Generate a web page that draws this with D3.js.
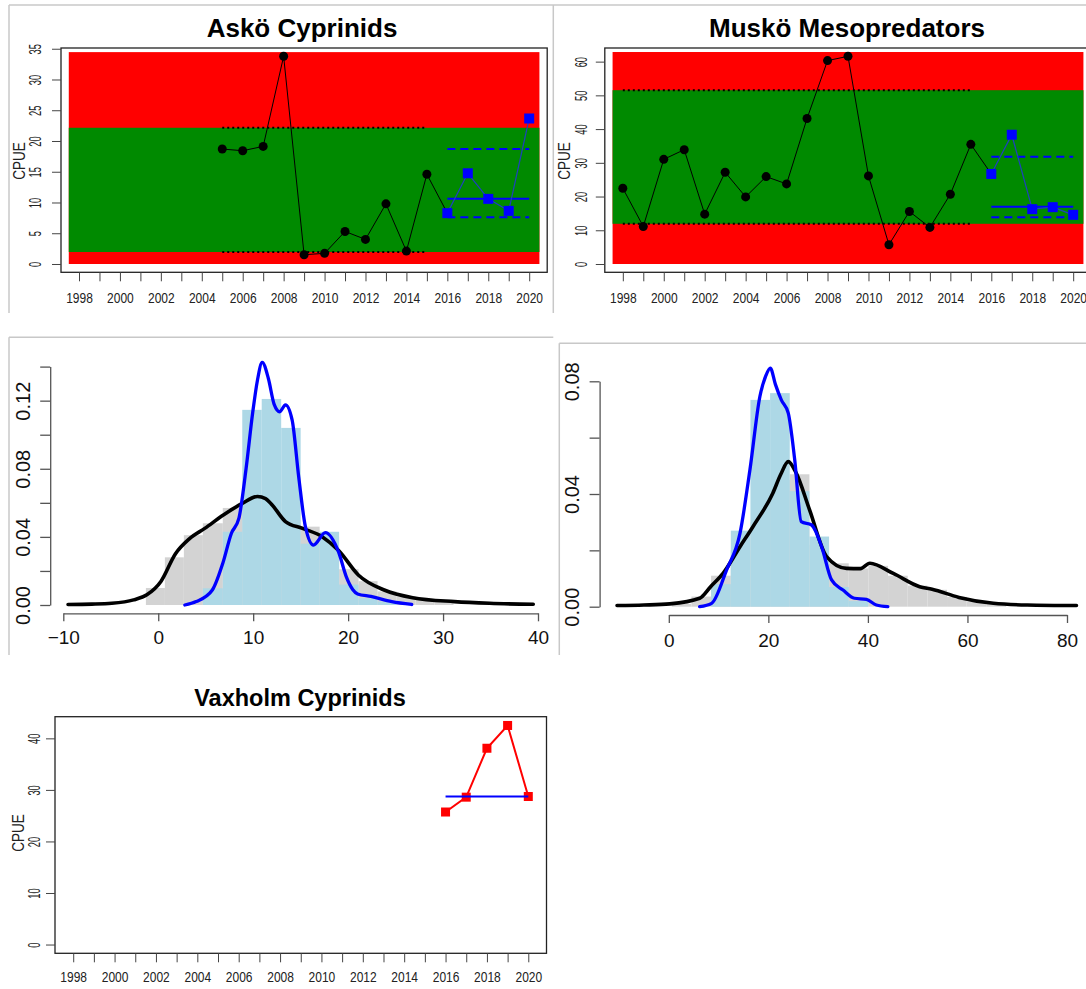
<!DOCTYPE html>
<html>
<head>
<meta charset="utf-8">
<script src="https://cdn.jsdelivr.net/npm/d3@7"></script>
<style>
  body { margin: 0; background: #fff; }
  svg { display: block; }
</style>
</head>
<body>
<svg id="chart" width="1086" height="989"></svg>
<script>
const FONT = "'Liberation Sans', Arial, sans-serif";

// ---- trend panels: CPUE per year ----
const yearTicks = [1998, 1999, 2000, 2001, 2002, 2003, 2004, 2005, 2006, 2007, 2008, 2009, 2010, 2011, 2012, 2013, 2014, 2015, 2016, 2017, 2018, 2019, 2020];
const yearLabels = [1998, 2000, 2002, 2004, 2006, 2008, 2010, 2012, 2014, 2016, 2018, 2020];

const askoYears = [2005, 2006, 2007, 2008, 2009, 2010, 2011, 2012, 2013, 2014, 2015, 2016, 2017, 2018, 2019, 2020];
const askoCpue = [18.69, 18.42, 19.12, 33.77, 1.51, 1.73, 5.29, 4.0, 9.78, 2.1, 14.59, 8.27, 14.75, 10.59, 8.64, 23.66];
const askoBand = [1.95, 22.15];          // green band = dotted reference lines
const askoRecent = [7.62, 10.59, 18.69]; // lower dashed, median, upper dashed
const askoYTicks = [0, 5, 10, 15, 20, 25, 30, 35];

const muskoYears = [1998, 1999, 2000, 2001, 2002, 2003, 2004, 2005, 2006, 2007, 2008, 2009, 2010, 2011, 2012, 2013, 2014, 2015, 2016, 2017, 2018, 2019, 2020];
const muskoCpue = [22.46, 11.13, 31.03, 33.89, 14.78, 27.19, 19.9, 25.91, 23.74, 43.15, 60.3, 61.58, 26.11, 5.71, 15.57, 10.84, 20.69, 35.47, 26.7, 38.33, 16.26, 16.85, 14.58];
const muskoBand = [11.92, 51.53];
const muskoRecent = [13.89, 16.95, 31.82];
const muskoYTicks = [0, 10, 20, 30, 40, 50, 60];

const vaxholmYears = [2016, 2017, 2018, 2019, 2020];
const vaxholmCpue = [25.71, 28.59, 38.08, 42.5, 28.72];
const vaxholmMedian = 28.72;
const vaxholmYTicks = [0, 10, 20, 30, 40];

// ---- density panels ----
const askoEdges = [-1.3, 0.7, 2.7, 4.7, 6.8, 8.85, 10.9, 12.95, 15.0, 17.0, 19.05, 21.1, 23.1, 25.1, 27.1, 29.1, 31.1];
const askoAllHist = [0.010, 0.028, 0.041, 0.048, 0.057, 0.062, 0.060, 0.050, 0.046, 0.040, 0.021, 0.014, 0.008, 0.005, 0.003, 0.002];
const askoRecentHist = [0, 0, 0, 0.0098, 0.043, 0.1146, 0.121, 0.104, 0.036, 0.043, 0.012, 0.004, 0.002, 0, 0, 0];
const askoAllCurveX = [-9.5, -7.0, -4.9, -2.6, -1.2, 0.3, 1.8, 3.3, 4.9, 6.9, 8.8, 10.45, 11.3, 12.0, 13.4, 15.2, 17.3, 19.0, 21.1, 23.8, 26.8, 31.2, 34.9, 39.5];
const askoAllCurveY = [0.0003, 0.0005, 0.001, 0.003, 0.006, 0.014, 0.030, 0.039, 0.045, 0.053, 0.0595, 0.0637, 0.0625, 0.0587, 0.049, 0.045, 0.040, 0.032, 0.0175, 0.0088, 0.0043, 0.002, 0.001, 0.0004];
const askoRecentCurveX = [2.8, 4.0, 5.7, 6.8, 7.7, 8.5, 9.25, 9.95, 10.45, 10.95, 11.6, 12.2, 12.8, 13.4, 14.1, 14.8, 15.5, 16.35, 17.6, 19.0, 19.8, 20.5, 21.0, 22.4, 24.6, 26.7];
const askoRecentCurveY = [0, 0.002, 0.0088, 0.0245, 0.042, 0.051, 0.08, 0.113, 0.132, 0.1425, 0.133, 0.118, 0.1135, 0.1175, 0.1087, 0.075, 0.046, 0.0352, 0.0425, 0.031, 0.0167, 0.009, 0.0065, 0.005, 0.002, 0.0003];

const muskoEdges = [0.6, 4.55, 8.5, 12.45, 16.4, 20.35, 24.3, 28.25, 32.2, 36.15, 40.1, 44.05, 48.0, 51.95, 55.9, 59.85, 63.8, 67.75];
const muskoAllHist = [0.001, 0.0036, 0.011, 0.020, 0.030, 0.045, 0.047, 0.022, 0.0154, 0.0136, 0.0145, 0.011, 0.0075, 0.006, 0.0035, 0.0018, 0.001];
const muskoRecentHist = [0, 0, 0.008, 0.027, 0.0734, 0.0758, 0.041, 0.0249, 0.007, 0.002, 0, 0, 0, 0, 0, 0, 0];
const muskoAllCurveX = [-10.4, -5.0, 0.2, 6.2, 8.4, 10.9, 14.3, 16.9, 20.9, 22.5, 24.0, 25.6, 28.3, 31.7, 35.7, 38.5, 40.4, 45.1, 50.4, 52.9, 58.3, 65.2, 72.0, 81.9];
const muskoAllCurveY = [0.0004, 0.0006, 0.001, 0.003, 0.0071, 0.0118, 0.0213, 0.0284, 0.0403, 0.047, 0.0515, 0.0474, 0.0343, 0.0178, 0.0136, 0.0135, 0.0154, 0.0118, 0.0071, 0.0062, 0.0033, 0.0012, 0.0006, 0.0004];
const muskoRecentCurveX = [6.2, 8.6, 11.6, 14.3, 16.3, 18.3, 19.5, 20.4, 21.4, 22.6, 24.0, 25.3, 26.6, 28.7, 30.7, 32.7, 35.0, 37.3, 39.7, 41.7, 44.0];
const muskoRecentCurveY = [0, 0.0012, 0.013, 0.026, 0.0486, 0.0746, 0.082, 0.0847, 0.079, 0.0734, 0.0687, 0.0521, 0.0302, 0.029, 0.0213, 0.0095, 0.0059, 0.003, 0.0026, 0.0006, 0];

const svg = d3.select("#chart").attr("font-family", FONT);
svg.append("rect").attr("width", 1086).attr("height", 989).attr("fill", "#fff");

// light grey frames round the pasted panels
const frames = [
  [9, 5, 1086, 5], [9, 5, 9, 313], [553.3, 5, 553.3, 313],
  [9, 337.3, 553.3, 337.3], [9, 337.3, 9, 655],
  [559.3, 343.3, 1086, 343.3], [559.3, 343.3, 559.3, 655]
];
svg.selectAll(".frame").data(frames).join("line")
  .attr("class", "frame")
  .attr("x1", d => d[0]).attr("y1", d => d[1])
  .attr("x2", d => d[2]).attr("y2", d => d[3])
  .attr("stroke", "#c8c8c8").attr("stroke-width", 1.5);

function drawTrend(p) {
  const g = svg.append("g");
  const x = d3.scaleLinear().domain([1997.12, 2020.88]).range([p.left, p.right]);
  const y = d3.scaleLinear().domain(p.yDomain).range([p.bottom, p.top]);

  if (p.band) {
    g.append("rect")
      .attr("x", x(1997.5)).attr("y", y(p.redTop))
      .attr("width", x(2020.5) - x(1997.5)).attr("height", y(0) - y(p.redTop))
      .attr("fill", "#ff0000");
    g.append("rect")
      .attr("x", x(1997.5)).attr("y", y(p.band[1]))
      .attr("width", x(2020.5) - x(1997.5)).attr("height", y(p.band[0]) - y(p.band[1]))
      .attr("fill", "#008a00");
    // dotted reference lines over the baseline period
    g.selectAll(".ref").data(p.band).join("line")
      .attr("x1", x(p.years[0])).attr("x2", x(2015))
      .attr("y1", d => y(d)).attr("y2", d => y(d))
      .attr("stroke", "#000").attr("stroke-width", 2)
      .attr("stroke-dasharray", "2,3");
  }

  // box
  g.append("rect")
    .attr("x", p.left).attr("y", p.top)
    .attr("width", p.right - p.left).attr("height", p.bottom - p.top)
    .attr("fill", "none").attr("stroke", "#222").attr("stroke-width", 1.3);

  // y axis
  const ya = g.append("g").attr("transform", `translate(${p.left},0)`)
    .call(d3.axisLeft(y).tickValues(p.yTicks).tickSize(9).tickSizeOuter(0).tickFormat(d3.format("d")));
  ya.attr("font-family", FONT).attr("font-size", 12);
  ya.select(".domain").remove();
  ya.selectAll(".tick line").attr("stroke", "#444");
  ya.selectAll(".tick text")
    .attr("x", null).attr("dy", null).attr("fill", "#222")
    .attr("text-anchor", "middle").attr("dominant-baseline", "central")
    .attr("transform", `translate(${p.yLabelX - p.left},0) rotate(-90) scale(0.78,1.35)`);

  // x axis
  const xa = g.append("g").attr("transform", `translate(0,${p.bottom})`)
    .call(d3.axisBottom(x).tickValues(yearTicks).tickSize(9).tickSizeOuter(0)
      .tickFormat(d => yearLabels.includes(d) ? d : ""));
  xa.attr("font-family", FONT).attr("font-size", 12);
  xa.select(".domain").remove();
  xa.selectAll(".tick line").attr("stroke", "#444");
  xa.selectAll(".tick text")
    .attr("y", null).attr("dy", null).attr("fill", "#222")
    .attr("dominant-baseline", "central")
    .attr("transform", `translate(0,${p.xLabelY - p.bottom}) scale(1,1.15)`);

  // title and y label
  g.append("text")
    .attr("x", p.titleX).attr("y", p.titleY)
    .attr("text-anchor", "middle").attr("font-weight", "bold")
    .attr("font-size", p.titleSize).attr("fill", "#000")
    .text(p.title);
  g.append("text")
    .attr("text-anchor", "middle").attr("dominant-baseline", "central")
    .attr("font-size", 13.5).attr("fill", "#222")
    .attr("transform", `translate(${p.cpueX},${p.cpueY}) rotate(-90) scale(1,1.25)`)
    .text("CPUE");

  const pts = p.years.map((yr, i) => ({ year: yr, v: p.cpue[i] }));
  const line = d3.line().x(d => x(d.year)).y(d => y(d.v));

  if (p.band) {
    const base = pts.filter(d => d.year <= 2016);
    const recent = pts.filter(d => d.year >= 2016);
    g.append("path").datum(base).attr("d", line)
      .attr("fill", "none").attr("stroke", "#000").attr("stroke-width", 1);
    g.selectAll(".pt").data(pts.filter(d => d.year < 2016)).join("circle")
      .attr("cx", d => x(d.year)).attr("cy", d => y(d.v)).attr("r", 4.5)
      .attr("fill", "#000");
    // recent-period median and dashed limits
    g.selectAll(".lim").data([p.recent[0], p.recent[2]]).join("line")
      .attr("x1", x(2016)).attr("x2", x(2020))
      .attr("y1", d => y(d)).attr("y2", d => y(d))
      .attr("stroke", "#0000ff").attr("stroke-width", 2)
      .attr("stroke-dasharray", "8,5");
    g.append("line")
      .attr("x1", x(2016)).attr("x2", x(2020))
      .attr("y1", y(p.recent[1])).attr("y2", y(p.recent[1]))
      .attr("stroke", "#0000ff").attr("stroke-width", 2);
    g.append("path").datum(recent).attr("d", line)
      .attr("fill", "none").attr("stroke", "#1f3fc0").attr("stroke-width", 1.2);
    g.selectAll(".sq").data(recent).join("rect")
      .attr("x", d => x(d.year) - 5).attr("y", d => y(d.v) - 5)
      .attr("width", 10).attr("height", 10).attr("fill", "#0000ff");
  } else {
    g.append("path").datum(pts).attr("d", line)
      .attr("fill", "none").attr("stroke", "#ff0000").attr("stroke-width", 2);
    g.selectAll(".sq").data(pts).join("rect")
      .attr("x", d => x(d.year) - 4.5).attr("y", d => y(d.v) - 4.5)
      .attr("width", 9).attr("height", 9).attr("fill", "#ff0000");
    g.append("line")
      .attr("x1", x(2016)).attr("x2", x(2020))
      .attr("y1", y(p.median)).attr("y2", y(p.median))
      .attr("stroke", "#0000ff").attr("stroke-width", 2);
  }
}

function drawHist(p) {
  const g = svg.append("g");
  const x = d3.scaleLinear().domain(p.xDomain).range(p.xRange);
  const y = d3.scaleLinear().domain([0, p.yMax]).range([p.yBase, p.yTop]);
  const bins = p.edges.slice(0, -1).map((e, i) => ({
    x0: e, x1: p.edges[i + 1], all: p.allHist[i], recent: p.recentHist[i]
  }));

  g.selectAll(".all").data(bins).join("rect")
    .attr("x", d => x(d.x0)).attr("width", d => x(d.x1) - x(d.x0))
    .attr("y", d => y(d.all)).attr("height", d => y(0) - y(d.all))
    .attr("fill", "#d3d3d3");
  g.selectAll(".recent").data(bins).join("rect")
    .attr("x", d => x(d.x0)).attr("width", d => x(d.x1) - x(d.x0))
    .attr("y", d => y(d.recent)).attr("height", d => y(0) - y(d.recent))
    .attr("fill", "#add8e6");

  const curve = d3.line().x(d => x(d[0])).y(d => y(d[1])).curve(d3.curveMonotoneX);
  g.append("path").datum(d3.zip(p.allX, p.allY)).attr("d", curve)
    .attr("fill", "none").attr("stroke", "#000").attr("stroke-width", 3.6)
    .attr("stroke-linejoin", "round").attr("stroke-linecap", "round");
  g.append("path").datum(d3.zip(p.recentX, p.recentY)).attr("d", curve)
    .attr("fill", "none").attr("stroke", "#0000ff").attr("stroke-width", 3.3)
    .attr("stroke-linejoin", "round").attr("stroke-linecap", "round");

  const ya = g.append("g").attr("transform", `translate(${p.yAxisX},0)`)
    .call(d3.axisLeft(y).tickValues(p.yTicks).tickSize(10).tickSizeOuter(0)
      .tickFormat(d => p.yLabels.includes(d) ? d3.format(".2f")(d) : ""));
  ya.attr("font-family", FONT).attr("font-size", 20);
  ya.select(".domain").attr("stroke", "#555").attr("stroke-width", 1.3);
  ya.selectAll(".tick line").attr("stroke", "#555").attr("stroke-width", 1.3);
  ya.selectAll(".tick text")
    .attr("x", null).attr("dy", null).attr("fill", "#111")
    .attr("text-anchor", "middle").attr("dominant-baseline", "central")
    .attr("transform", `translate(${p.yLabelX - p.yAxisX},0) rotate(-90)`);

  const xa = g.append("g").attr("transform", `translate(0,${p.xAxisY})`)
    .call(d3.axisBottom(x).tickValues(p.xTicks).tickSize(8).tickSizeOuter(0));
  xa.attr("font-family", FONT).attr("font-size", 19);
  xa.select(".domain").attr("stroke", "#555").attr("stroke-width", 1.3);
  xa.selectAll(".tick line").attr("stroke", "#555").attr("stroke-width", 1.3);
  xa.selectAll(".tick text")
    .attr("y", p.xLabelY - p.xAxisY).attr("dy", null).attr("fill", "#111")
    .attr("dominant-baseline", "central");
}

drawTrend({
  title: "Askö Cyprinids", titleX: 302, titleY: 37, titleSize: 26,
  left: 61, right: 547.2, top: 48, bottom: 272.3,
  yDomain: [-1.35, 35.12], yTicks: askoYTicks, yLabelX: 35, xLabelY: 298,
  cpueX: 19, cpueY: 161,
  years: askoYears, cpue: askoCpue, band: askoBand, redTop: 34.45, recent: askoRecent
});

drawTrend({
  title: "Muskö Mesopredators", titleX: 847, titleY: 37, titleSize: 26,
  left: 604.8, right: 1091.2, top: 48, bottom: 272.3,
  yDomain: [-2.46, 64.04], yTicks: muskoYTicks, yLabelX: 581, xLabelY: 298,
  cpueX: 564, cpueY: 161,
  years: muskoYears, cpue: muskoCpue, band: muskoBand, redTop: 62.85, recent: muskoRecent
});

drawTrend({
  title: "Vaxholm Cyprinids", titleX: 300, titleY: 706, titleSize: 23.5,
  left: 55, right: 546.5, top: 716.7, bottom: 953.3,
  yDomain: [-1.7, 44.2], yTicks: vaxholmYTicks, yLabelX: 34, xLabelY: 977,
  cpueX: 18, cpueY: 833,
  years: vaxholmYears, cpue: vaxholmCpue, median: vaxholmMedian
});

drawHist({
  xDomain: [-10, 40], xRange: [63.3, 538], yMax: 0.14, yBase: 605, yTop: 366.6,
  edges: askoEdges, allHist: askoAllHist, recentHist: askoRecentHist,
  allX: askoAllCurveX, allY: askoAllCurveY, recentX: askoRecentCurveX, recentY: askoRecentCurveY,
  yAxisX: 50.2, yLabelX: 23, yTicks: [0, 0.02, 0.04, 0.06, 0.08, 0.10, 0.12, 0.14], yLabels: [0, 0.04, 0.08, 0.12],
  xAxisY: 613.3, xLabelY: 638, xTicks: [-10, 0, 10, 20, 30, 40]
});

drawHist({
  xDomain: [0, 80], xRange: [668.8, 1067], yMax: 0.08, yBase: 606.7, yTop: 381.3,
  edges: muskoEdges, allHist: muskoAllHist, recentHist: muskoRecentHist,
  allX: muskoAllCurveX, allY: muskoAllCurveY, recentX: muskoRecentCurveX, recentY: muskoRecentCurveY,
  yAxisX: 599.6, yLabelX: 572, yTicks: [0, 0.02, 0.04, 0.06, 0.08], yLabels: [0, 0.04, 0.08],
  xAxisY: 615, xLabelY: 640, xTicks: [0, 20, 40, 60, 80]
});
</script>
</body>
</html>
